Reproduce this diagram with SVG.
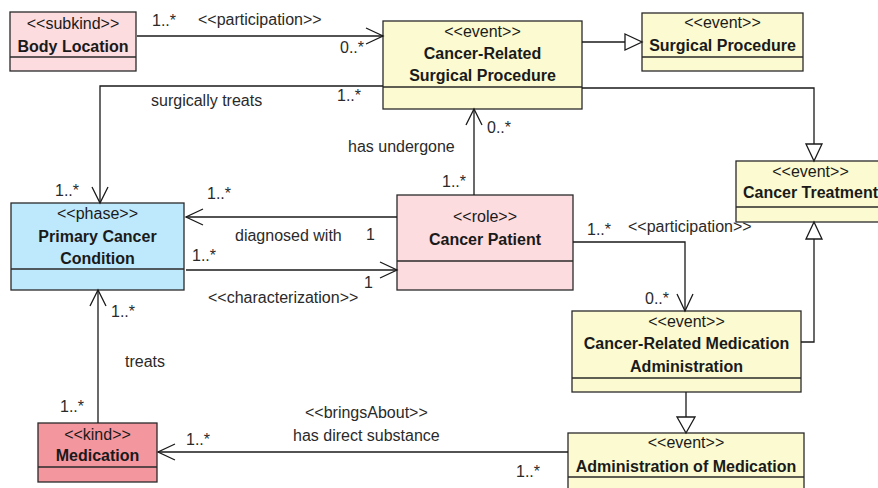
<svg xmlns="http://www.w3.org/2000/svg" width="878" height="488" viewBox="0 0 878 488">
<style>
text{font-family:"Liberation Sans",Arial,sans-serif;font-size:16px;fill:#1a1a1a}
.st{text-anchor:middle}
.nm{text-anchor:middle;font-weight:bold}
.lb{fill:#2a2a2a}
.box{stroke:#2a2a2a;stroke-width:1.3}
.div{stroke:#2a2a2a;stroke-width:1.3;fill:none}
.yel{fill:#FBFAD0}
.pink{fill:#FDDCDF}
.blue{fill:#BEE8FB}
.red{fill:#F4969E}
.ln{stroke:#1a1a1a;stroke-width:1.3;fill:none}
.tri{stroke:#1a1a1a;stroke-width:1.3;fill:#fff}
</style>
<rect width="878" height="488" fill="#fff"/>

<g id="body-location">
<rect class="box pink" x="10" y="12" width="126" height="59"/>
<line class="div" x1="10" y1="57" x2="136" y2="57"/>
<text class="st" x="73" y="29">&lt;&lt;subkind&gt;&gt;</text>
<text class="nm" x="73" y="52">Body Location</text>
</g>

<g id="cancer-related-surgical-procedure">
<rect class="box yel" x="383" y="21" width="199" height="88"/>
<line class="div" x1="383" y1="87" x2="582" y2="87"/>
<text class="st" x="482.5" y="37">&lt;&lt;event&gt;&gt;</text>
<text class="nm" x="482.5" y="59">Cancer-Related</text>
<text class="nm" x="482.5" y="81">Surgical Procedure</text>
</g>

<g id="surgical-procedure">
<rect class="box yel" x="642" y="13" width="161" height="58"/>
<line class="div" x1="642" y1="57" x2="803" y2="57"/>
<text class="st" x="722.5" y="28">&lt;&lt;event&gt;&gt;</text>
<text class="nm" x="722.5" y="51">Surgical Procedure</text>
</g>

<g id="cancer-treatment">
<rect class="box yel" x="736" y="161" width="150" height="61"/>
<line class="div" x1="736" y1="207" x2="886" y2="207"/>
<text class="st" x="810.5" y="177">&lt;&lt;event&gt;&gt;</text>
<text x="743" y="198" font-weight="bold" textLength="135" lengthAdjust="spacingAndGlyphs">Cancer Treatment</text>
</g>

<g id="primary-cancer-condition">
<rect class="box blue" x="11" y="203" width="173" height="87"/>
<line class="div" x1="11" y1="269" x2="184" y2="269"/>
<text class="st" x="97.5" y="219">&lt;&lt;phase&gt;&gt;</text>
<text class="nm" x="97.5" y="242">Primary Cancer</text>
<text class="nm" x="97.5" y="264">Condition</text>
</g>

<g id="cancer-patient">
<rect class="box pink" x="397" y="195" width="176" height="95"/>
<line class="div" x1="397" y1="261" x2="573" y2="261"/>
<text class="st" x="485" y="222">&lt;&lt;role&gt;&gt;</text>
<text class="nm" x="485" y="245">Cancer Patient</text>
</g>

<g id="cancer-related-medication-administration">
<rect class="box yel" x="572" y="311" width="229" height="81"/>
<line class="div" x1="572" y1="378" x2="801" y2="378"/>
<text class="st" x="686.5" y="327">&lt;&lt;event&gt;&gt;</text>
<text class="nm" x="686.5" y="349">Cancer-Related Medication</text>
<text class="nm" x="686.5" y="372">Administration</text>
</g>

<g id="medication">
<rect class="box red" x="38" y="423" width="119" height="59"/>
<line class="div" x1="38" y1="467" x2="157" y2="467"/>
<text class="st" x="97.5" y="440">&lt;&lt;kind&gt;&gt;</text>
<text class="nm" x="97.5" y="461">Medication</text>
</g>

<g id="administration-of-medication">
<rect class="box yel" x="568" y="433" width="236" height="70"/>
<line class="div" x1="568" y1="477" x2="804" y2="477"/>
<text class="st" x="686" y="448">&lt;&lt;event&gt;&gt;</text>
<text class="nm" x="686" y="472">Administration of Medication</text>
</g>

<g id="connectors">
<!-- Body Location -> CRSP participation -->
<line class="ln" x1="137" y1="36" x2="383" y2="36"/>
<polyline class="ln" points="366,28 383,36 366,44"/>
<text class="lb" x="152" y="26">1..*</text>
<text class="lb" x="198" y="25">&lt;&lt;participation&gt;&gt;</text>
<text class="lb" x="340" y="53">0..*</text>

<!-- CRSP -> Surgical Procedure generalization -->
<line class="ln" x1="582" y1="42" x2="625" y2="42"/>
<polygon class="tri" points="625,34 642,42 625,50"/>

<!-- CRSP -> Cancer Treatment generalization -->
<polyline class="ln" points="582,88 814,88 814,144"/>
<polygon class="tri" points="806,144 814,161 822,144"/>

<!-- surgically treats -->
<polyline class="ln" points="383,86 100,86 100,203"/>
<polyline class="ln" points="92,187 100,203 108,187"/>
<text class="lb" x="151" y="106">surgically treats</text>
<text class="lb" x="337" y="101">1..*</text>
<text class="lb" x="55" y="196">1..*</text>

<!-- has undergone -->
<line class="ln" x1="474" y1="195" x2="474" y2="109"/>
<polyline class="ln" points="466,125 474,109 482,125"/>
<text class="lb" x="487" y="133">0..*</text>
<text class="lb" x="348" y="152">has undergone</text>
<text class="lb" x="442" y="187">1..*</text>

<!-- diagnosed with -->
<line class="ln" x1="397" y1="217" x2="186" y2="217"/>
<polyline class="ln" points="203,209 186,217 203,225"/>
<text class="lb" x="207" y="199">1..*</text>
<text class="lb" x="235" y="241">diagnosed with</text>
<text class="lb" x="366" y="240">1</text>

<!-- characterization -->
<line class="ln" x1="186" y1="270" x2="397" y2="270"/>
<polyline class="ln" points="380,262 397,270 380,278"/>
<text class="lb" x="192" y="261">1..*</text>
<text class="lb" x="364" y="288">1</text>
<text class="lb" x="208" y="303">&lt;&lt;characterization&gt;&gt;</text>

<!-- participation Cancer Patient -> CRMA -->
<polyline class="ln" points="573,242 685,242 685,311"/>
<polyline class="ln" points="677,294 685,311 693,294"/>
<text class="lb" x="587" y="235">1..*</text>
<text class="lb" x="628" y="232">&lt;&lt;participation&gt;&gt;</text>
<text class="lb" x="645" y="304">0..*</text>

<!-- CRMA -> Cancer Treatment generalization -->
<polyline class="ln" points="801,342 814,342 814,239"/>
<polygon class="tri" points="806,239 814,222 822,239"/>

<!-- CRMA -> Administration of Medication generalization -->
<line class="ln" x1="686" y1="392" x2="686" y2="417"/>
<polygon class="tri" points="677,417 686,433 695,417"/>

<!-- bringsAbout -->
<line class="ln" x1="568" y1="452" x2="158" y2="452"/>
<polyline class="ln" points="175,444 158,452 175,460"/>
<text class="lb" x="186" y="445">1..*</text>
<text class="lb" x="305" y="418">&lt;&lt;bringsAbout&gt;&gt;</text>
<text class="lb" x="293" y="441">has direct substance</text>
<text class="lb" x="516" y="477">1..*</text>

<!-- treats -->
<line class="ln" x1="98" y1="423" x2="98" y2="290"/>
<polyline class="ln" points="90,306 98,290 106,306"/>
<text class="lb" x="111" y="317">1..*</text>
<text class="lb" x="125" y="367">treats</text>
<text class="lb" x="60" y="412">1..*</text>
</g>
</svg>
